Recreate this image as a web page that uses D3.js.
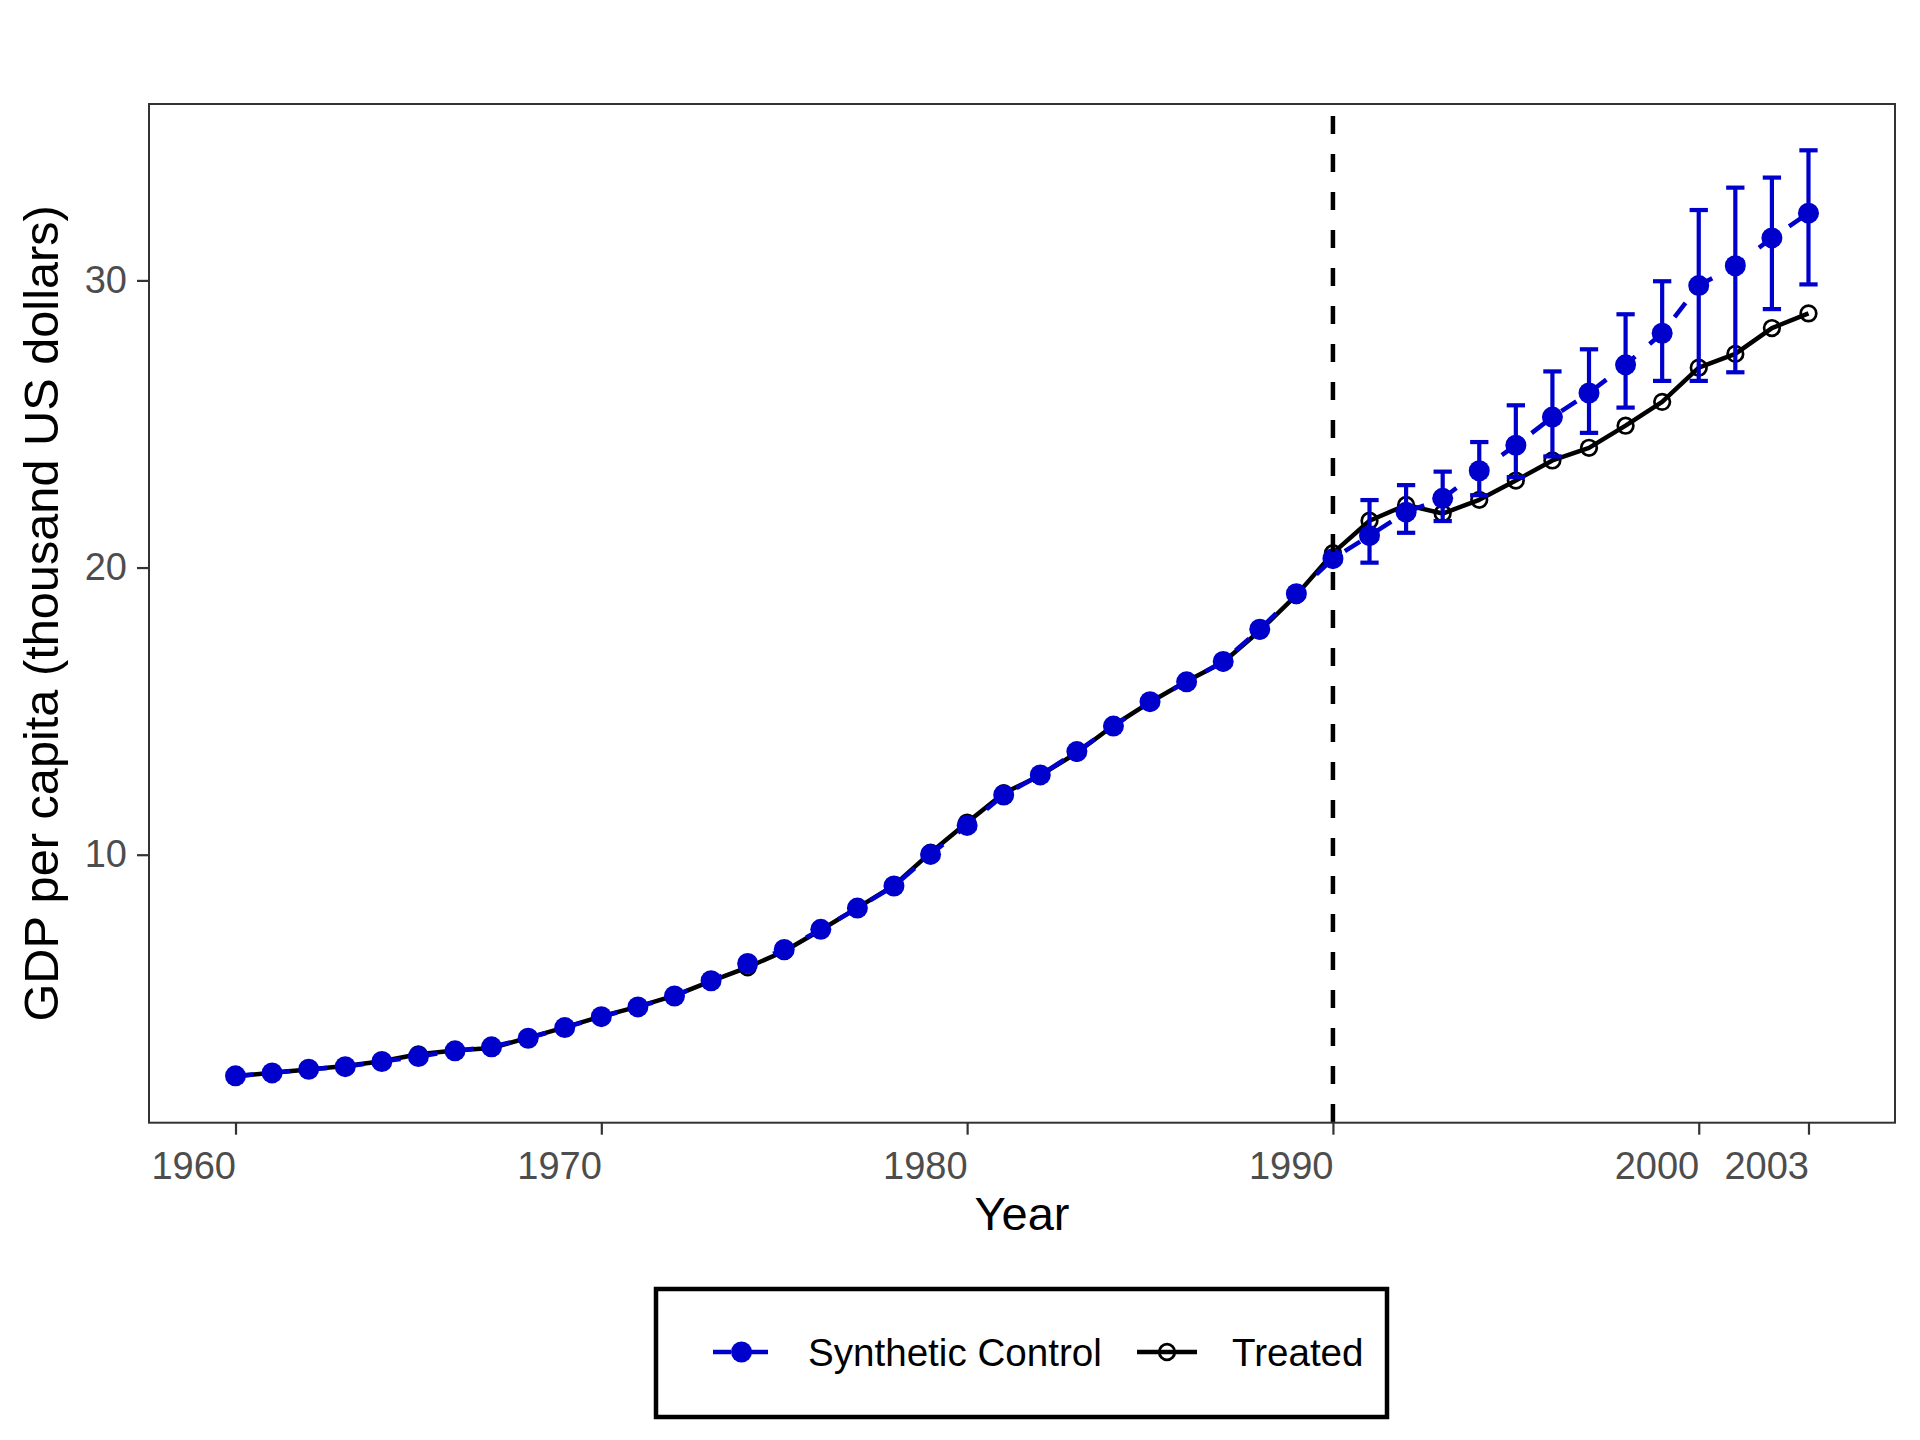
<!DOCTYPE html>
<html>
<head>
<meta charset="utf-8">
<script src="https://cdn.jsdelivr.net/npm/d3@7"></script>
<style>
  body { margin: 0; background: #fff; }
  text { font-family: "Liberation Sans", Arial, Helvetica, sans-serif; }
</style>
</head>
<body>
<svg id="chart" width="1920" height="1440"></svg>
<script>
// values (thousand US dollars)
var years = d3.range(1960, 2004);
var synthetic = [2.30,2.40,2.53,2.62,2.80,2.97,3.17,3.31,3.61,3.98,
                 4.36,4.70,5.08,5.61,6.21,6.70,7.40,8.14,8.91,10.01,
                 11.02,12.08,12.78,13.59,14.48,15.33,16.02,16.73,17.85,19.09,
                 20.31,21.11,21.93,22.41,23.37,24.26,25.24,26.08,27.06,28.16,
                 29.82,30.51,31.48,32.34];
var treated = [2.28,2.41,2.52,2.64,2.81,3.05,3.18,3.27,3.62,3.99,
               4.37,4.71,5.09,5.60,6.08,6.64,7.38,8.15,8.93,10.07,
               11.12,12.14,12.76,13.55,14.50,15.31,16.04,16.70,17.80,19.04,
               20.50,21.63,22.18,21.88,22.36,23.03,23.73,24.17,24.94,25.77,
               26.96,27.44,28.34,28.85];
var errYears = d3.range(1991, 2004);
var errLow  = [20.17,21.21,21.62,22.52,23.15,23.87,24.69,25.57,26.50,26.50,26.80,29.00,29.86];
var errHigh = [22.35,22.87,23.34,24.37,25.65,26.83,27.60,28.82,29.97,32.45,33.23,33.58,34.53];
var xTicks = [1960, 1970, 1980, 1990, 2000, 2003];
var yTicks = [10, 20, 30];
var treatYear = 1990;
var seriesNames = ["Synthetic Control", "Treated"];

var blue = "#0000CD";
var panel = {left: 149, right: 1895, top: 104, bottom: 1122.7};

var svg = d3.select("#chart");
svg.append("rect").attr("width", 1920).attr("height", 1440).attr("fill", "#fff");

// scales, with a small expansion like ggplot
var xPad = 0.055 * (d3.max(years) - d3.min(years));
var x = d3.scaleLinear()
    .domain([d3.min(years) - xPad, d3.max(years) + xPad])
    .range([panel.left, panel.right]);
var yLo = d3.min(treated.concat(synthetic, errLow));
var yHi = d3.max(treated.concat(synthetic, errHigh));
var yPad = 0.05 * (yHi - yLo);
var y = d3.scaleLinear()
    .domain([yLo - yPad, yHi + yPad])
    .range([panel.bottom, panel.top]);

var g = svg.append("g");

// treated: solid black line, open circles
var line = d3.line()
    .x(function(d){ return x(d[0]); })
    .y(function(d){ return y(d[1]); });
var treatedPts = years.map(function(yr, i){ return [yr, treated[i]]; });
var synthPts = years.map(function(yr, i){ return [yr, synthetic[i]]; });

g.append("path").datum(treatedPts)
    .attr("d", line)
    .attr("fill", "none").attr("stroke", "#000").attr("stroke-width", 4.5)
    .attr("stroke-linejoin", "round");
g.selectAll(".tpt").data(treatedPts).enter().append("circle")
    .attr("class", "tpt")
    .attr("cx", function(d){ return x(d[0]); })
    .attr("cy", function(d){ return y(d[1]); })
    .attr("r", 7.8)
    .attr("fill", "none").attr("stroke", "#000").attr("stroke-width", 2.7);

// synthetic control: dashed blue line, filled dots
g.append("path").datum(synthPts)
    .attr("d", line)
    .attr("fill", "none").attr("stroke", blue).attr("stroke-width", 4.5)
    .attr("stroke-dasharray", "18,19");
g.selectAll(".spt").data(synthPts).enter().append("circle")
    .attr("class", "spt")
    .attr("cx", function(d){ return x(d[0]); })
    .attr("cy", function(d){ return y(d[1]); })
    .attr("r", 10.5)
    .attr("fill", blue);

// error bars
var capHalf = x(errYears[0] + 0.25) - x(errYears[0]);
var eb = g.selectAll(".eb").data(errYears).enter().append("g").attr("class", "eb")
    .attr("stroke", blue).attr("stroke-width", 4.2).attr("fill", "none");
eb.append("line")
    .attr("x1", function(d){ return x(d); }).attr("x2", function(d){ return x(d); })
    .attr("y1", function(d, i){ return y(errLow[i]); })
    .attr("y2", function(d, i){ return y(errHigh[i]); });
eb.append("line")
    .attr("x1", function(d){ return x(d) - capHalf; }).attr("x2", function(d){ return x(d) + capHalf; })
    .attr("y1", function(d, i){ return y(errLow[i]); })
    .attr("y2", function(d, i){ return y(errLow[i]); });
eb.append("line")
    .attr("x1", function(d){ return x(d) - capHalf; }).attr("x2", function(d){ return x(d) + capHalf; })
    .attr("y1", function(d, i){ return y(errHigh[i]); })
    .attr("y2", function(d, i){ return y(errHigh[i]); });

// treatment year
g.append("line")
    .attr("x1", x(treatYear)).attr("x2", x(treatYear))
    .attr("y1", panel.top + 12).attr("y2", panel.bottom)
    .attr("stroke", "#000").attr("stroke-width", 4.5)
    .attr("stroke-dasharray", "18,20");

// panel border
svg.append("rect")
    .attr("x", panel.left).attr("y", panel.top)
    .attr("width", panel.right - panel.left).attr("height", panel.bottom - panel.top)
    .attr("fill", "none").attr("stroke", "#333").attr("stroke-width", 2);

// axes (x labels end at their tick, as in the original)
var xAxis = d3.axisBottom(x).tickValues(xTicks).tickFormat(d3.format("d"))
    .tickSize(12).tickPadding(17);
var xg = svg.append("g").attr("transform", "translate(0," + panel.bottom + ")").call(xAxis);
xg.selectAll(".tick text").attr("text-anchor", "end");
var yAxis = d3.axisLeft(y).tickValues(yTicks).tickSize(12).tickPadding(10);
var yg = svg.append("g").attr("transform", "translate(" + panel.left + ",0)").call(yAxis);
[xg, yg].forEach(function(a){
    a.select(".domain").remove();
    a.selectAll(".tick line").attr("stroke", "#333").attr("stroke-width", 2.2);
    a.selectAll(".tick text").attr("fill", "#4D4D4D").style("font-size", "38px")
        .style("font-family", "'Liberation Sans', Arial, Helvetica, sans-serif");
});

// axis titles
svg.append("text")
    .attr("x", (panel.left + panel.right) / 2).attr("y", 1230)
    .attr("text-anchor", "middle").style("font-size", "47px").attr("fill", "#000")
    .text("Year");
svg.append("text")
    .attr("transform", "translate(58," + (panel.top + panel.bottom) / 2 + ") rotate(-90)")
    .attr("text-anchor", "middle").style("font-size", "48.7px").attr("fill", "#000")
    .text("GDP per capita (thousand US dollars)");

// legend
var lg = svg.append("g");
lg.append("rect")
    .attr("x", 656).attr("y", 1289).attr("width", 731).attr("height", 128)
    .attr("fill", "#fff").attr("stroke", "#000").attr("stroke-width", 4.5);
var keyY = 1352;
lg.append("line").attr("x1", 713).attr("x2", 770).attr("y1", keyY).attr("y2", keyY)
    .attr("stroke", blue).attr("stroke-width", 4.5).attr("stroke-dasharray", "18,19");
lg.append("circle").attr("cx", 741.5).attr("cy", keyY).attr("r", 10.5).attr("fill", blue);
lg.append("text").attr("x", 808).attr("y", 1366).style("font-size", "38.6px")
    .text(seriesNames[0]);
lg.append("line").attr("x1", 1137).attr("x2", 1197).attr("y1", keyY).attr("y2", keyY)
    .attr("stroke", "#000").attr("stroke-width", 4.5);
lg.append("circle").attr("cx", 1167).attr("cy", keyY).attr("r", 7.8)
    .attr("fill", "none").attr("stroke", "#000").attr("stroke-width", 2.7);
lg.append("text").attr("x", 1232).attr("y", 1366).style("font-size", "38.6px")
    .text(seriesNames[1]);
</script>
</body>
</html>
